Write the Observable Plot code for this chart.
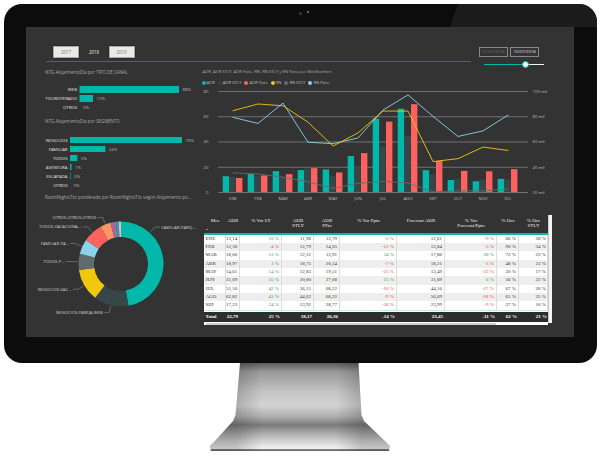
<!DOCTYPE html>
<html><head><meta charset="utf-8">
<script src="https://cdn.jsdelivr.net/npm/d3@7"></script>
<script src="https://cdn.jsdelivr.net/npm/@observablehq/plot@0.6"></script>
<style>
html,body{margin:0;padding:0;background:#fff;}
body{width:600px;height:461px;position:relative;overflow:hidden;font-family:"Open Sans","DejaVu Sans",sans-serif;}
.a{position:absolute;}
#monitor{left:4px;top:4px;width:593px;height:359px;background:#0c0c0c;border-radius:18px;overflow:hidden;}
#glare{left:0;top:0;width:593px;height:359px;background:#1c1c1c;clip-path:polygon(454px 0,593px 0,593px 23px,446px 23px);}
#screen{left:26px;top:27px;width:548px;height:310px;background:#333333;}
#stand{left:0;top:0;width:600px;height:461px;
 clip-path:polygon(240px 363px,358.5px 363px,361.5px 415px,364px 421px,386px 442px,390px 446px,389px 451px,211px 451px,209.5px 446px,214px 442px,233px 421px,235.5px 415px);
 background:linear-gradient(to bottom,#5b5b5b 363px,#9a9a9a 372px,#c4c4c4 392px,#d4d4d4 405px,#b2b2b2 416px,#7b7b7b 425px,#a3a3a3 432px,#cdcdcd 440px,#ececec 447px,#efefef 448.5px,#4e4e4e 450px,#8a8a8a 451px);}
#standShade{left:0;top:0;width:600px;height:461px;
 clip-path:polygon(240px 363px,358.5px 363px,361.5px 415px,364px 421px,386px 442px,390px 446px,389px 451px,211px 451px,209.5px 446px,214px 442px,233px 421px,235.5px 415px);
 background:linear-gradient(to right,rgba(0,0,0,0.18) 236px,rgba(0,0,0,0) 262px,rgba(0,0,0,0) 336px,rgba(0,0,0,0.18) 362px);}
.btn{top:46px;height:12px;width:26px;background:#e9e9e9;border:0.8px solid #a9a9a9;box-sizing:border-box;color:#777;font-size:4.4px;line-height:11px;text-align:center;box-shadow:0 0 1px #000;}
.t{color:#a9a9a9;font-size:4.4px;white-space:nowrap;line-height:1;}
.date{top:47px;height:9.5px;width:29px;border:0.8px solid #8a8a8a;box-sizing:border-box;font-size:4.2px;line-height:8px;text-align:center;background:#343434;}
#legend{left:201px;top:80px;display:flex;gap:3px;font-size:4.2px;color:#bdbdbd;line-height:1;white-space:nowrap;}
#legend span.dot{display:inline-block;width:4px;height:4px;border-radius:50%;margin-right:1px;vertical-align:-0.6px;}
#tbl{width:344px;height:111px;overflow:hidden;font-family:"Liberation Serif","DejaVu Serif",serif;font-size:5px;}
.row{position:absolute;left:0;display:flex;white-space:nowrap;}
.c{flex:none;box-sizing:border-box;overflow:hidden;white-space:nowrap;}
.hdr .c{color:#f0f0f0;text-align:center;line-height:5.5px;padding-top:3.5px;height:19.3px;}
.body .c{text-align:right;padding-right:2px;color:#333;border-right:0.6px solid #dcdcdc;height:8.33px;line-height:8.33px;}
.body.odd{background:#ffffff;}
.body.even{background:#eeeeee;}
.tot{background:#2d2d2d;}
.tot .c{text-align:right;padding-right:2px;color:#fff;font-weight:bold;height:10px;line-height:10px;}
.c.first{text-align:left;padding-left:1.5px;}
.c.last{padding-right:1px;}
</style></head><body>
<div id="monitor" class="a"><div id="glare" class="a"></div></div>
<div class="a" style="left:298.5px;top:11.5px;width:3px;height:3px;border-radius:50%;background:#3a3a3a;"></div>
<div class="a" style="left:306.5px;top:11px;width:2px;height:2px;border-radius:50%;background:#19c34a;"></div>
<div id="screen" class="a"></div>
<div id="stand" class="a"></div>
<div id="standShade" class="a"></div>
<div id="dash"></div>
<script>
// ---------- DATA ----------
const years = ["2017", "2018", "2019"];
const dateFrom = "01/01/2018";
const dateTo = "15/07/2018";

const canalTitle = "%TG AlojamientoDia por TIPO DE CANAL";
const canalCats = ["WEB", "TOUROPERADO", "OTROS"];
const canalVals = [88, 12, 0];

const segTitle = "%TG AlojamientoDia por SEGMENTO";
const segCats = ["NEGOCIOS", "FAMILIAR", "TODOS", "AVENTURA", "ESCAPADA", "OTROS"];
const segVals = [76, 24, 5, 1, 0.4, 0];

const donutTitle = "RoomNightsTot ponderado por RoomNightsTot según Alojamiento po...";
const donutCats = ["FAMILIAR-PAREJ...", "NEGOCIOS-PAREJA-WEB", "NEGOCIOS-VAC...", "TODOS-P...", "FAMILIAR-PA...", "TODOS-VACACIONA...", "OTROS-OTROS-OTROS", "AVENTURA-PAREJA-WEB", "ESCAPADA-PAREJA-WEB", "OTROS-PAREJA-WEB"];
const donutVals = [47.2, 13.2, 12.3, 6.2, 5.7, 7.5, 3.9, 2.0, 1.1, 0.9];
const donutColors = ["#01B8AA", "#374649", "#F2C80F", "#5F6B6D", "#8AD4EB", "#FD625E", "#FE9666", "#A66999", "#3599B8", "#DFBFBF"];

const comboTitle = "ADR, ADR STLY, ADR Ppto, RN, RN STLY y RN Ppto por MesNombre";
const seriesNames = ["ADR", "ADR STLY", "ADR Ppto", "RN", "RN STLY", "RN Ppto"];
const seriesColors = ["#01B8AA", "#374649", "#FD625E", "#F2C80F", "#5F6B6D", "#8AD4EB"];
const months = ["ENE", "FEB", "MAR", "ABR", "MAY", "JUN", "JUL", "AGO", "SEP", "OCT", "NOV", "DIC"];
const adr     = [12.5, 14.2, 16.5, 17.4, 17.9, 28.5, 58.1, 66.0, 17.3, 9.5, 8.5, 10.4];
const adrStly = [11.96, 12.79, 12.31, 18.75, 12.83, 20.00, 36.15, 44.62, 13.92, 10.1, 10.1, 10.1];
const adrPpto = [11.1, 13.1, 14.1, 18.9, 15.5, 30.8, 55.7, 69.6, 24.6, 16.7, 16.4, 18.1];
const rn      = [84800, 90100, 88700, 75700, 56800, 67200, 84500, 84500, 44500, 46800, 56000, 53300];
const rnStly  = [35500, 34700, 32100, 28600, 23200, 27300, 28800, 27500, 20500, 21300, 21300, 22700];
const rnPpto  = [79500, 74700, 90800, 59800, 58700, 63200, 85300, 97300, 80300, 64400, 68800, 81300];
const leftTicks = [0, 20, 40, 60, 80];

const tableHeaders = ["Mes", "ADR", "% Var LY", "ADR<br>STLY", "ADR<br>PPto", "% Var Ppto", "Forecast ADR", "% Var<br>Forecast/Ppto", "% Occ", "% Occ<br>STLY"];
const tMes      = ["ENE", "FEB", "MAR", "ABR", "MAY", "JUN", "JUL", "AGO", "SEP"];
const tAdr      = [13.14, 12.30, 18.60, 18.97, 14.61, 31.09, 51.50, 62.82, 17.23];
const tVarLy    = [10, -4, 51, 1, 14, 55, 42, 41, 24];
const tAdrStly  = [11.96, 12.79, 12.31, 18.75, 12.83, 20.00, 36.15, 44.62, 13.92];
const tAdrPpto  = [13.79, 14.05, 13.91, 20.34, 19.51, 27.08, 68.22, 68.22, 28.77];
const tVarPpto  = [-5, -12, 34, -7, -25, 15, -16, -9, -36];
const tForecast = [12.61, 13.84, 17.86, 18.21, 13.49, 31.89, 44.16, 56.69, 23.99];
const tVarFc    = [-9, -5, 28, -3, -22, 6, -17, -18, -9];
const tOcc      = [66, 90, 72, 48, 50, 56, 67, 65, 37];
const tOccStly  = [28, 34, 23, 23, 17, 22, 26, 25, 16];
const tTotal    = ["Total", 22.79, 25, 18.17, 26.36, -14, 23.45, -11, 62, 21];

// ---------- HELPERS ----------
const dash = document.getElementById("dash");
function place(el, left, top, width) {
  el.classList.add("a");
  el.style.left = left + "px"; el.style.top = top + "px";
  if (width) el.style.width = width + "px";
  dash.appendChild(el);
  return el;
}
function textDiv(txt, left, cy, cls = "t", extra = "") {
  const d = document.createElement("div");
  d.className = cls; d.textContent = txt;
  d.style.cssText += extra;
  return place(d, left, cy - 2.2);
}
const FONT = "'Open Sans','DejaVu Sans',sans-serif";

// ---------- TOP CONTROLS ----------
[53, 81, 108.5].forEach((x, i) => {
  const b = document.createElement("div");
  b.textContent = years[i];
  if (i === 1) { b.className = "a"; b.style.cssText = "top:46px;height:12px;width:26px;font-size:4.4px;line-height:12px;text-align:center;color:#e8e8e8;"; }
  else b.className = "btn a";
  b.style.left = x + "px";
  dash.appendChild(b);
});
const line = document.createElement("div");
line.style.cssText = "height:0.8px;background:#167d75;";
place(line, 46, 61, 425);
const d1 = document.createElement("div"); d1.className = "date a"; d1.style.color = "#6f6f6f"; d1.textContent = dateFrom; place(d1, 479, 47);
const d2 = document.createElement("div"); d2.className = "date a"; d2.style.color = "#e0e0e0"; d2.textContent = dateTo; place(d2, 510, 47);
const s1 = document.createElement("div"); s1.style.cssText = "height:1.2px;background:#01B8AA;"; place(s1, 484, 63.6, 41);
const s2 = document.createElement("div"); s2.style.cssText = "height:1.2px;background:#f2f2f2;"; place(s2, 525, 63.6, 19);
const knob = document.createElement("div"); knob.style.cssText = "width:7px;height:7px;border-radius:50%;background:#fff;border:0.8px solid #01B8AA;box-sizing:border-box;"; place(knob, 521.5, 60.7);

// ---------- LEFT BAR CHARTS ----------
textDiv(canalTitle, 45, 71.7);
const canal = canalCats.map((c, i) => ({ c, v: canalVals[i] }));
const canalPlot = Plot.plot({
  width: 170, height: 32, marginLeft: 39.5, marginRight: 31, marginTop: 0, marginBottom: 0,
  style: { background: "transparent", color: "#e4e4e4", fontFamily: FONT, fontSize: "4.3px", overflow: "visible" },
  x: { domain: [0, 88], axis: null },
  y: { domain: canalCats, padding: 0.27, label: null, axis: null },
  marks: [
    Plot.barX(canal, { x: "v", y: "c", fill: "#01B8AA" }),
    Plot.text(canal, { x: "v", y: "c", text: d => `${Math.round(d.v)}%`, dx: 3, textAnchor: "start", fill: "#bdbdbd" }),
    Plot.axisY({ tickSize: 0, tickPadding: 3, label: null })
  ]
});
place(canalPlot, 40, 82);

textDiv(segTitle, 45, 121.5);
const seg = segCats.map((c, i) => ({ c, v: segVals[i] }));
const segPlot = Plot.plot({
  width: 180, height: 58, marginLeft: 44, marginRight: 24, marginTop: 0, marginBottom: 0,
  style: { background: "transparent", color: "#e4e4e4", fontFamily: FONT, fontSize: "4.3px", overflow: "visible" },
  x: { domain: [0, 76], axis: null },
  y: { domain: segCats, padding: 0.3, label: null, axis: null },
  marks: [
    Plot.barX(seg, { x: "v", y: "c", fill: "#01B8AA" }),
    Plot.text(seg, { x: "v", y: "c", text: d => `${Math.round(d.v)}%`, dx: 3, textAnchor: "start", fill: "#bdbdbd" }),
    Plot.axisY({ tickSize: 0, tickPadding: 3, label: null })
  ]
});
place(segPlot, 26, 133.5);

// ---------- DONUT ----------
textDiv(donutTitle, 45, 197);
const donut = donutCats.map((c, i) => ({ c, v: donutVals[i] }));
const donutColor = Plot.scale({ color: { domain: donutCats, range: donutColors } });
const pieData = d3.pie().value(d => d.v).sort(null)(donut);
const donutPlot = Plot.plot({
  width: 180, height: 118, margin: 0,
  style: { background: "transparent", color: "#cfcfcf", fontFamily: FONT, fontSize: "4.2px", overflow: "visible" },
  marks: [
    (index, scales, values, dims) => {
      const cx = dims.width / 2, cy = dims.height / 2;
      const rIn = 27, rOut = 42.5;
      const g = d3.create("svg:g");
      const arc = d3.arc().innerRadius(rIn).outerRadius(rOut);
      g.append("g").attr("transform", `translate(${cx},${cy})`)
        .selectAll("path").data(pieData).join("path")
        .attr("d", arc).attr("fill", d => donutColor.apply(d.data.c));
      const labs = pieData.filter(d => d.data.v >= 3).map(d => {
        const mid = (d.startAngle + d.endAngle) / 2;
        const right = mid < Math.PI;
        const a = right ? d.startAngle + (d.endAngle - d.startAngle) * 0.25 : mid;
        const p1 = [cx + (rOut + 1) * Math.sin(a), cy - (rOut + 1) * Math.cos(a)];
        const p2 = [cx + (rOut + 7.5) * Math.sin(a), cy - (rOut + 7.5) * Math.cos(a)];
        return { d, right, p1, p2, y: p2[1] };
      });
      const left = labs.filter(l => !l.right).sort((a, b) => a.y - b.y);
      for (let i = 1; i < left.length; i++) if (left[i].y - left[i - 1].y < 5.5) left[i].y = left[i - 1].y + 5.5;
      labs.forEach(l => {
        const x3 = l.p2[0] + (l.right ? 5 : -5);
        g.append("polyline")
          .attr("points", `${l.p1[0]},${l.p1[1]} ${l.p2[0]},${l.y} ${x3},${l.y}`)
          .attr("fill", "none").attr("stroke", "#9a9a9a").attr("stroke-width", 0.5);
        g.append("text").attr("x", x3 + (l.right ? 1.5 : -1.5)).attr("y", l.y)
          .attr("dy", "0.35em").attr("text-anchor", l.right ? "start" : "end")
          .attr("fill", "#d0d0d0").text(l.d.data.c);
      });
      return g.node();
    }
  ]
});
place(donutPlot, 31, 205);

// ---------- COMBO CHART ----------
textDiv(comboTitle, 202.5, 72.5, "t", "font-size:4.2px;");
const leg = document.createElement("div");
leg.id = "legend";
leg.innerHTML = seriesNames.map((n, i) => `<span><span class="dot" style="background:${seriesColors[i]}"></span>${n}</span>`).join("");
place(leg, 201.5, 80.6);

const combo = months.map((m, i) => ({ m, adr: adr[i], adrStly: adrStly[i], adrPpto: adrPpto[i], rn: rn[i], rnStly: rnStly[i], rnPpto: rnPpto[i] }));
const rnToLeft = v => v / 1000 - 20;   // right axis: 20 mil ... 100 mil mapped on 0 ... 80
const comboPlot = Plot.plot({
  width: 360, height: 120, marginLeft: 23, marginRight: 33, marginTop: 5, marginBottom: 14,
  style: { background: "transparent", color: "#bdbdbd", fontFamily: FONT, fontSize: "4.3px", overflow: "visible" },
  x: { type: "band", domain: months, padding: 0, label: null, axis: null },
  y: { domain: [0, 80], label: null, axis: null },
  marks: [
    Plot.gridY(leftTicks, { stroke: "#8c8c8c", strokeOpacity: 1, strokeWidth: 0.7, insetRight: -6 }),
    Plot.barY(combo, { x: "m", y: "adrStly", fill: "#374649", insetLeft: 9.2, insetRight: 9.4 }),
    Plot.barY(combo, { x: "m", y: "adr", fill: "#01B8AA", insetLeft: 2.7, insetRight: 15.9 }),
    Plot.barY(combo, { x: "m", y: "adrPpto", fill: "#FD625E", insetLeft: 16, insetRight: 2.6 }),
    Plot.lineY(combo, { x: "m", y: d => rnToLeft(d.rnStly), stroke: "#5F6B6D", strokeWidth: 0.9 }),
    Plot.lineY(combo, { x: "m", y: d => rnToLeft(d.rnPpto), stroke: "#8AD4EB", strokeWidth: 0.9 }),
    Plot.lineY(combo, { x: "m", y: d => rnToLeft(d.rn), stroke: "#F2C80F", strokeWidth: 0.9 }),
    Plot.axisY(leftTicks, { anchor: "left", tickSize: 0, tickPadding: 10, label: null }),
    Plot.axisY(leftTicks, { anchor: "right", tickSize: 0, tickPadding: 10, tickFormat: d => `${d + 20} mil`, label: null }),
    Plot.axisX({ tickSize: 0, tickPadding: 4.5, label: null })
  ]
});
place(comboPlot, 195, 86);

// ---------- TABLE ----------
const fmtNum = v => v.toFixed(2).replace(".", ",");
const fmtPct = v => `${v} %`;
const colW = [22, 14, 42, 32, 26, 57, 48, 52, 22, 29];
const colFmt = [null, fmtNum, fmtPct, fmtNum, fmtNum, fmtPct, fmtNum, fmtPct, fmtPct, fmtPct];
const signed = [false, false, true, false, false, true, false, true, false, false];
const rowsData = tMes.map((m, i) => [m, tAdr[i], tVarLy[i], tAdrStly[i], tAdrPpto[i], tVarPpto[i], tForecast[i], tVarFc[i], tOcc[i], tOccStly[i]]);
const tw = colW.reduce((a, b) => a + b, 0);
function rowHtml(cls, top, cells) {
  return `<div class="row ${cls}" style="top:${top}px;width:${tw}px">${cells}</div>`;
}
function cellsHtml(r, isTotal) {
  return r.map((v, j) => {
    const txt = colFmt[j] ? colFmt[j](v) : v;
    let st = `width:${colW[j]}px;`;
    if (!isTotal && signed[j]) st += `color:${v < 0 ? "#e8474c" : "#3a9e3a"};`;
    const cls = j === 0 ? " first" : (j === r.length - 1 ? " last" : "");
    return `<div class="c${cls}" style="${st}">${txt}</div>`;
  }).join("");
}
const hdrH = 19.3, tealH = 1.3, rowH = 8.33;
let html = rowHtml("hdr", 0, tableHeaders.map((h, j) => `<div class="c" style="width:${colW[j]}px">${h}</div>`).join(""));
html += `<div class="a" style="left:0;top:${hdrH}px;width:${tw}px;height:${tealH}px;background:#01B8AA"></div>`;
const bodyTop = hdrH + tealH;
rowsData.forEach((r, i) => { html += rowHtml(`body ${i % 2 ? "even" : "odd"}`, bodyTop + i * rowH, cellsHtml(r, false)); });
const afterRows = bodyTop + rowsData.length * rowH;
html += `<div class="a" style="left:0;top:${afterRows}px;width:${tw}px;height:${98 - afterRows}px;background:#fff;border-top:0.8px solid #c9ebe8;box-sizing:border-box"></div>`;
html += rowHtml("tot", 98, cellsHtml(tTotal, true));
const tbl = document.createElement("div");
tbl.id = "tbl"; tbl.innerHTML = html;
place(tbl, 204, 214);
const arrow = document.createElement("div");
arrow.style.cssText = "width:0;height:0;border-left:1.3px solid transparent;border-right:1.3px solid transparent;border-bottom:1.6px solid #ddd;";
place(arrow, 205.5, 228.5);
const vs = document.createElement("div");
vs.style.cssText = "height:108px;background:#f4f4f4;border-left:0.5px solid #ccc;box-sizing:border-box;";
place(vs, 548, 215, 3.5);
const hs = document.createElement("div");
hs.style.cssText = "height:3px;background:#ffffff;";
place(hs, 204, 322, 344);
const thumb = document.createElement("div");
thumb.style.cssText = "height:2px;background:#cfcfcf;";
place(thumb, 206, 322.5, 290);
</script>
</body></html>
